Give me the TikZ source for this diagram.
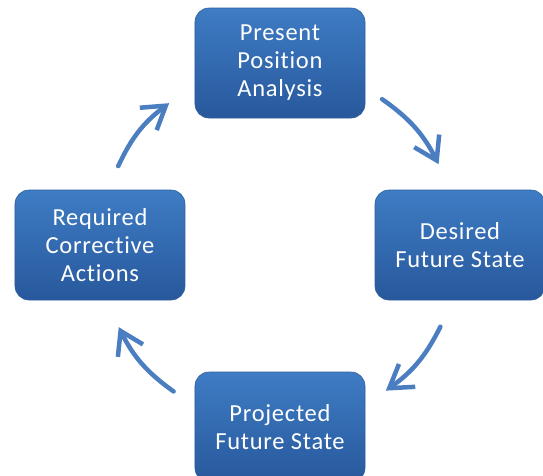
\documentclass[tikz,border=0pt]{standalone}
\usepackage{fontspec}
\setmainfont{Carlito}[Ligatures={NoCommon}, LetterSpace=3]
\usetikzlibrary{shapes, calc, arrows.meta}
\usepackage{xcolor}

\definecolor{boxtop}{RGB}{62,124,196}
\definecolor{boxbottom}{RGB}{40,88,156}
\definecolor{boxedge}{RGB}{46,94,158}
\definecolor{arrowblue}{RGB}{74,126,192}

\tikzset{
    stagebox/.style={rounded corners=14pt, top color=boxtop, bottom color=boxbottom,
        draw=boxedge, line width=0.6pt, minimum width=170pt, minimum height=110pt,
        text=white, align=center, font=\fontsize{24.5}{28}\selectfont},
    cyclearrow/.style={arrowblue, line width=4.5pt, line cap=round,
        -{Straight Barb[length=22pt,width=28pt]}}
}

\begin{document}
\begin{tikzpicture}[x=1pt, y=1pt]
    \useasboundingbox (-280,-230) rectangle (263,245);

    \node[stagebox] (present)    at (90:182)  {Present\\Position\\Analysis};
    \node[stagebox] (desired)    at (0:180)   {Desired\\Future State};
    \node[stagebox] (projected)  at (-90:182) {Projected\\Future State};
    \node[stagebox] (corrective) at (180:180) {Required\\Corrective\\Actions};

    \path (55:178)   coordinate (PD1);
    \path (27:178)   coordinate (PD2);
    \path (-27:180)  coordinate (DP1);
    \path (-54:180)  coordinate (DP2);
    \path (-126:181) coordinate (PC1);
    \path (-153:181) coordinate (PC2);
    \path (154:180)  coordinate (CP1);
    \path (128:180)  coordinate (CP2);

    \draw[cyclearrow] (PD1) to[bend left=14] (PD2);
    \draw[cyclearrow] (DP1) to[bend left=14] (DP2);
    \draw[cyclearrow] (PC1) to[bend left=14] (PC2);
    \draw[cyclearrow] (CP1) to[bend left=14] (CP2);
\end{tikzpicture}
\end{document}
